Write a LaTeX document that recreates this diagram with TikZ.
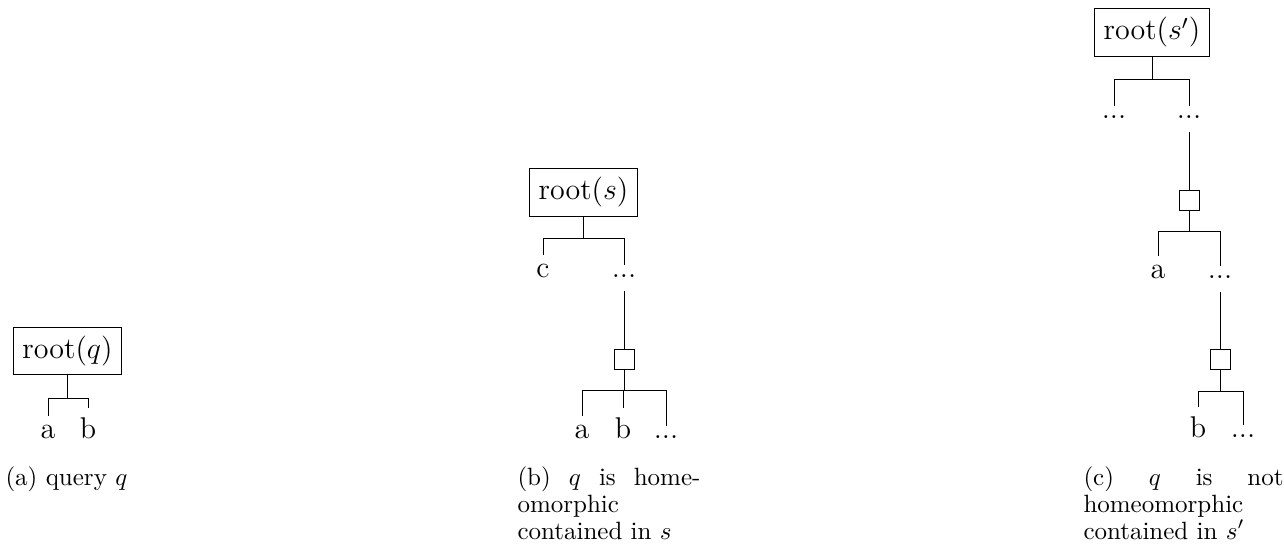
\documentclass[tikz,border=0pt]{standalone}
\tikzset{
  treefont/.style={font=\fontsize{12}{14.4}\selectfont},
  rootbox/.style={draw, treefont, inner sep=3.5pt},
  leaf/.style={anchor=base, treefont, inner sep=3.33pt},
  hub/.style={draw, minimum size=8pt, inner sep=0pt},
  capfont/.style={font=\fontsize{10}{10.8}\selectfont},
  capt/.style={anchor=base west, inner sep=0pt, capfont,
    text width=#1, align=justify},
  down/.style={shorten <=2pt},
}
\begin{document}
\begin{tikzpicture}[x=0.4pt,y=-0.4pt]
\useasboundingbox (0,0) rectangle (1284,547);

% ---- (a) the query tree q
\node[rootbox] (qr) at (67.5,351) {root($q$)};
\coordinate (qj) at (67.5,398);
\node[leaf] (qa) at (48,438) {a};
\node[leaf] (qb) at (88,438) {b};
\draw (qr) -- (qj);
\draw (qj) -| (qa.north);
\draw (qj) -| (qb.north);
\node[anchor=base west, inner sep=0pt, capfont]
  (qc) at (5,485) {(a) query $q$};

% ---- (b) tree s
\node[rootbox] (sr) at (583.5,192.5) {root($s$)};
\coordinate (sj) at (583.5,238);
\node[leaf] (sc) at (543,277) {c};
\node[leaf] (sd) at (624,277) {...};
\draw (sr) -- (sj);
\draw (sj) -| (sc.north);
\draw (sj) -| (sd.north);
\node[hub] (sh) at (624,359) {};
\draw[down] (sd.south) -- (sh.north);
\coordinate (sk) at (624,390);
\node[leaf] (sa) at (582,438) {a};
\node[leaf] (sb) at (623,438) {b};
\node[leaf] (se) at (666,438) {...};
\draw (sh) -- (sk);
\draw (sk) -| (sa.north);
\draw (sk) -| (sb.north);
\draw (sk) -| (se.north);
\node[capt=73.2pt] (scap) at (517,485)
  {(b) $q$ is home-\linebreak omorphic\newline contained in $s$};

% ---- (c) tree s'
\node[rootbox] (tr) at (1152,32.5) {root($s'$)};
\coordinate (tj) at (1152,79);
\node[leaf] (td1) at (1114,118) {...};
\node[leaf] (td2) at (1189,118) {...};
\draw (tr) -- (tj);
\draw (tj) -| (td1.north);
\draw (tj) -| (td2.north);
\node[hub] (th1) at (1189,200) {};
\draw[down] (td2.south) -- (th1.north);
\coordinate (tk) at (1189,231);
\node[leaf] (ta) at (1158,278) {a};
\node[leaf] (td3) at (1220,278) {...};
\draw (th1) -- (tk);
\draw (tk) -| (ta.north);
\draw (tk) -| (td3.north);
\node[hub] (th2) at (1220,359) {};
\draw[down] (td3.south) -- (th2.north);
\coordinate (tm) at (1220,391);
\node[leaf] (tb) at (1198,437) {b};
\node[leaf] (td4) at (1243,437) {...};
\draw (th2) -- (tm);
\draw (tm) -| (tb.north);
\draw (tm) -| (td4.north);
\node[capt=80pt] (tcap) at (1083,485)
  {(c) $q$ is not\linebreak homeomorphic\newline contained in $s'$};
\end{tikzpicture}
\end{document}
